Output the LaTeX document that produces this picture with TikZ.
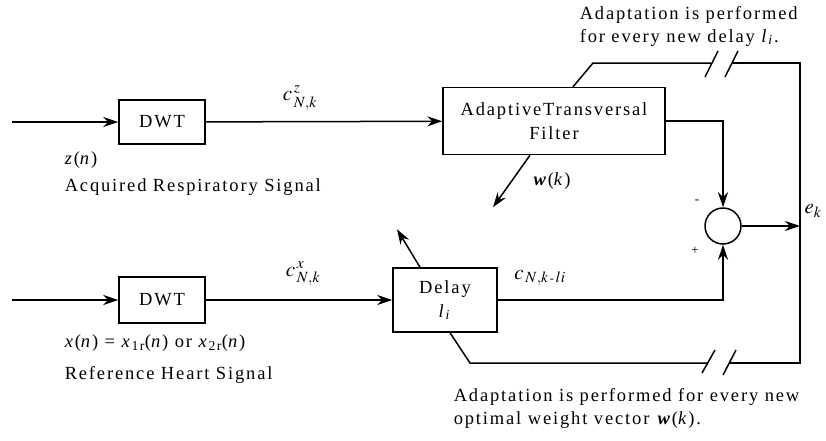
\documentclass[tikz,border=0pt]{standalone}
\usepackage{mathptmx}
\usepackage{fontspec}
\setmainfont{Liberation Serif}[LetterSpace=10]
\usepackage{tikz}
\usetikzlibrary{positioning, arrows.meta}

\begin{document}
\begin{tikzpicture}[x=1pt, y=-1pt, line width=1.5pt,
  every node/.style={font=\fontsize{18.5}{23}\selectfont, inner sep=0pt},
  blockbox/.style={rectangle, draw, line width=1.5pt, align=center},
  sumnode/.style={circle, draw, line width=1.5pt, minimum size=36pt},
  txt/.style={anchor=west},
  coef/.style={font=\fontsize{21}{24}\selectfont},
  arr/.style={-{Stealth[length=15pt,width=10pt]}}]
\useasboundingbox (0,0) rectangle (826,440);

\node[blockbox, minimum width=86pt, minimum height=44pt] (dwtz) at (162,122) {DWT};
\node[blockbox, minimum width=222pt, minimum height=67pt] (filt) at (554,121) {AdaptiveTransversal\\[1pt]Filter};
\node[blockbox, minimum width=86pt, minimum height=46pt] (dwtx) at (162,300) {DWT};
\node[blockbox, minimum width=104pt, minimum height=64pt] (del) at (445,300) {Delay\\[1pt]\textit{l}\textsubscript{\textit{i}}};
\node[sumnode] (sum) at (723,226) {};

\coordinate (inz) at (12,122);
\coordinate (inx) at (12,300);
\coordinate (ek) at (800,226);

% Forward paths
\draw[arr] (inz) -- (dwtz);
\draw[arr] (dwtz) -- (filt);
\draw[arr] (inx) -- (dwtx);
\draw[arr] (dwtx) -- (del);
\draw[arr] (filt.east) -| (sum.north);
\draw[arr] (del.east) -| (sum.south);
\draw[arr] (sum) -- (ek);

% Weight and delay updates
\draw[arr] ([xshift=-24pt]filt.south) -- ++(-37,52);
\draw[arr] ([xshift=-25pt]del.north) -- ++(-23,-38);

% Feedback loop with breaks
\draw ([xshift=19pt]filt.north) -- (593,63) -- (711,63);
\draw (705,77) -- (718,51);
\draw (725,77) -- (738,51);
\draw (732,63) -- (800,63) -- (800,363) -- (730,363);
\draw (702,373) -- (715,350);
\draw (723,375) -- (736,350);
\draw (708,363) -- (470,363) -- ([xshift=5pt]del.south);

% Labels
\node[coef] (cz) at (300,98) {$c^{\,z}_{\,N,k}$};
\node[coef] (cx) at (303,274) {$c^{\,x}_{\,N,k}$};
\node[coef] (cd) at (540,278) {$c_{\,N,k\,\mbox{\fontsize{12}{12}\selectfont -}\,li}$};
\node[coef] (eklab) at (813,211) {$e_{k}$};
\node (minus) at (697,202) {\fontsize{13}{14}\selectfont -};
\node (plus) at (695,251) {\fontsize{13}{14}\selectfont +};
\node (wk) at (552,181) {\textbf{\textit{w}}(\textit{k})};

\node[txt] (zn) at (64,160) {\textit{z}(\textit{n})};
\node[txt] (zlab) at (64,187) {Acquired Respiratory Signal};
\node[txt] (xn) at (64,343) {\textit{x}(\textit{n}) = \textit{x}\textsubscript{1r}(\textit{n}) or \textit{x}\textsubscript{2r}(\textit{n})};
\node[txt] (xlab) at (64,375) {Reference Heart Signal};
\node[txt, align=left] (toplab) at (579,26) {Adaptation is performed\\for every new delay \textit{l}\textsubscript{\textit{i}}.};
\node[txt, align=left] (botlab) at (453,408) {Adaptation is performed for every new\\optimal weight vector \textbf{\textit{w}}(\textit{k}).};
\end{tikzpicture}
\end{document}
